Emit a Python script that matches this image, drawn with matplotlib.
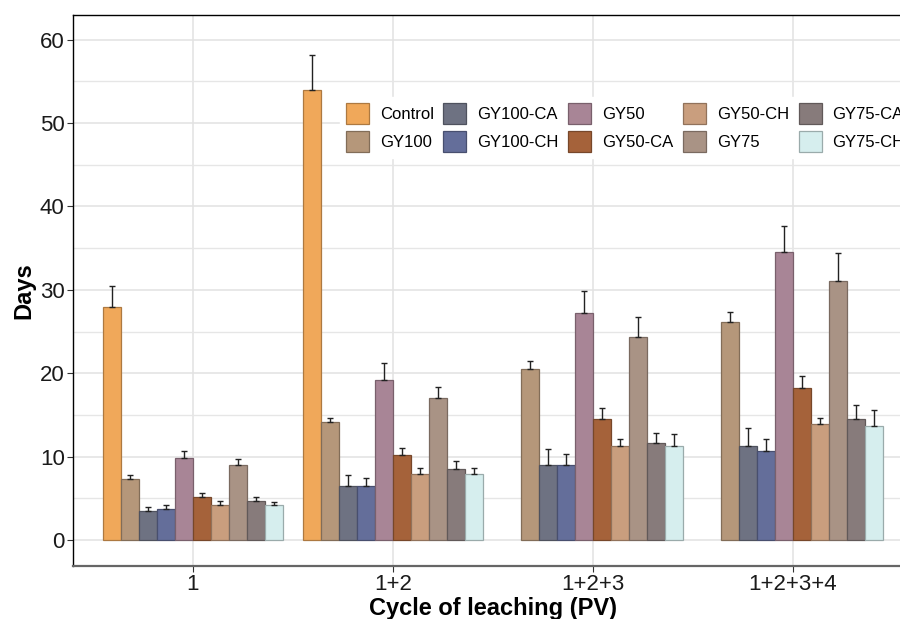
import numpy as np
import matplotlib
matplotlib.use("Agg")
import matplotlib.pyplot as plt
from matplotlib.colors import to_rgb
from matplotlib.ticker import MultipleLocator

plt.rcParams['font.family'] = ['Liberation Sans', 'DejaVu Sans']

cycles = ["1", "1+2", "1+2+3", "1+2+3+4"]
treatments = ["Control", "GY100", "GY100-CA", "GY100-CH", "GY50",
              "GY50-CA", "GY50-CH", "GY75", "GY75-CA", "GY75-CH"]
colors = ["#F0A85A", "#B5977A", "#6E7282", "#646E9A", "#A88596",
          "#A5623A", "#C99E7E", "#A99385", "#877B7B", "#D6EEEE"]

# mean days per treatment, one list per cycle (Control missing for 3 and 4)
days_c1 = [28.0, 7.3, 3.5, 3.7, 9.9, 5.2, 4.2, 9.0, 4.7, 4.2]
days_c2 = [53.9, 14.2, 6.5, 6.5, 19.2, 10.2, 7.9, 17.0, 8.5, 7.9]
days_c3 = [np.nan, 20.5, 9.0, 9.0, 27.2, 14.5, 11.3, 24.4, 11.6, 11.3]
days_c4 = [np.nan, 26.2, 11.3, 10.7, 34.6, 18.2, 13.9, 31.1, 14.5, 13.7]

# standard deviation (upper error bar)
sd_c1 = [2.5, 0.5, 0.5, 0.5, 0.8, 0.5, 0.5, 0.7, 0.5, 0.4]
sd_c2 = [4.2, 0.5, 1.3, 1.0, 2.0, 0.9, 0.8, 1.3, 1.0, 0.8]
sd_c3 = [np.nan, 1.0, 1.9, 1.3, 2.7, 1.3, 0.8, 2.3, 1.3, 1.4]
sd_c4 = [np.nan, 1.2, 2.1, 1.4, 3.0, 1.5, 0.8, 3.3, 1.7, 1.9]

days = np.array([days_c1, days_c2, days_c3, days_c4])
sd = np.array([sd_c1, sd_c2, sd_c3, sd_c4])

fig = plt.figure(figsize=(9, 6.19), dpi=100)
ax = fig.add_axes([73 / 900, 1 - 566 / 619, 840 / 900, 551 / 619])

x = np.arange(1, len(cycles) + 1)
n = len(treatments)
w = 0.9 / n

for i, (name, c) in enumerate(zip(treatments, colors)):
    pos = x - 0.45 + w * (i + 0.5)
    edge = tuple(v * 0.72 for v in to_rgb(c))
    ax.bar(pos, days[:, i], width=w, color=c, edgecolor=edge, linewidth=0.9,
           label=name, zorder=2)
    err = sd[:, i]
    ax.errorbar(pos, days[:, i], yerr=[np.zeros_like(err), err], fmt='none',
                ecolor='#222222', elinewidth=1.0, capsize=2.2, capthick=1.0,
                zorder=3)

ax.set_xlim(0.4, 4.6)
ax.set_ylim(-3.1, 62.95)
ax.set_xticks(x)
ax.set_xticklabels(cycles)
ax.yaxis.set_major_locator(MultipleLocator(10))
ax.yaxis.set_minor_locator(MultipleLocator(5))
ax.grid(True, which='major', color='#E2E2E2', linewidth=1.1, zorder=0)
ax.grid(True, which='minor', axis='y', color='#E6E6E6', linewidth=1.0, zorder=0)
ax.set_axisbelow(True)
ax.tick_params(axis='both', which='major', labelsize=16, length=4, pad=2,
               color='#333333', labelcolor='#1a1a1a')
ax.tick_params(axis='y', which='minor', length=0)

for s in ['top', 'left']:
    ax.spines[s].set_color('black')
    ax.spines[s].set_linewidth(1.0)
ax.spines['bottom'].set_color('#666666')
ax.spines['bottom'].set_linewidth(1.6)
ax.spines['right'].set_visible(False)

ax.set_xlabel("Cycle of leaching (PV)", fontsize=17, fontweight='bold', labelpad=1)
ax.set_ylabel("Days", fontsize=17, fontweight='bold', labelpad=3)

leg = ax.legend(ncol=5, loc='upper left', bbox_to_anchor=(340 / 900, 1 - 97 / 619),
                bbox_transform=fig.transFigure, fontsize=12, frameon=True,
                framealpha=1, edgecolor='white', fancybox=False,
                handlelength=1.38, handleheight=1.56, handletextpad=0.66,
                labelspacing=0.42, columnspacing=0.57, borderpad=0.35,
                borderaxespad=0)
leg.set_zorder(5)

fig.savefig("out.png", dpi=100)
